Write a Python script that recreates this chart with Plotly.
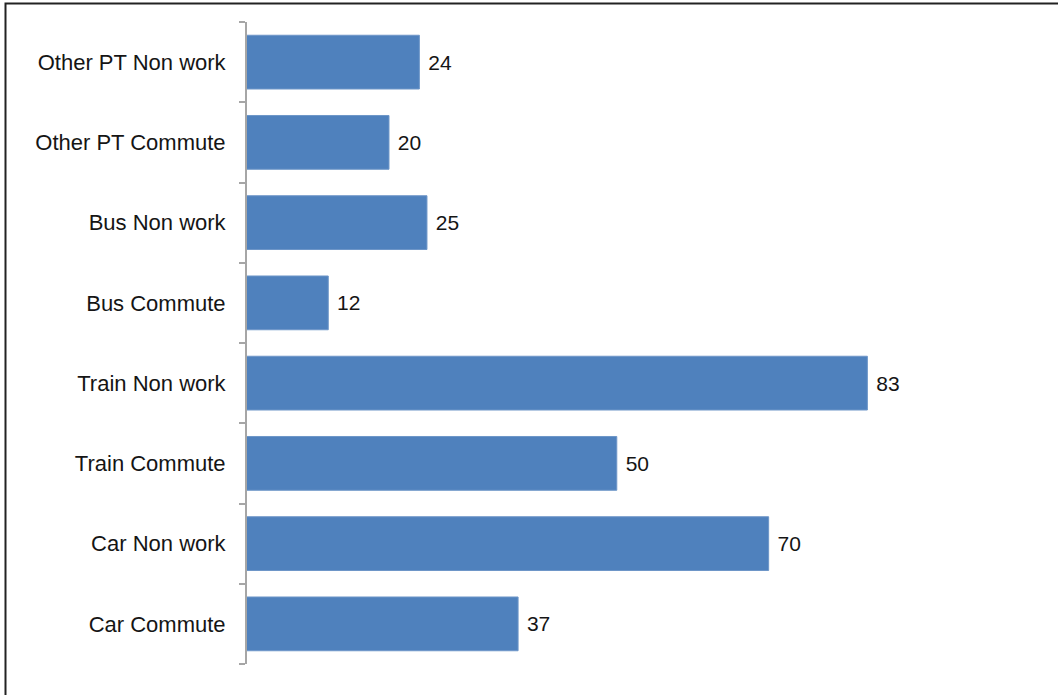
import plotly.graph_objects as go

# Trip categories, bottom to top
categories = [
    "Car Commute",
    "Car Non work",
    "Train Commute",
    "Train Non work",
    "Bus Commute",
    "Bus Non work",
    "Other PT Commute",
    "Other PT Non work",
]
values = [37, 70, 50, 83, 12, 25, 20, 24]

W, H = 1058, 695
ML, MR, MT, MB = 247, 139, 22, 31
plot_w = W - ML - MR
plot_h = H - MT - MB

FONT = "Liberation Sans, Arial, sans-serif"


def px_to_paper_x(px):
    return (px - ML) / plot_w


def px_to_paper_y(py):
    return (H - MB - py) / plot_h


fig = go.Figure(
    go.Bar(
        x=values,
        y=categories,
        orientation="h",
        marker=dict(color="#4F81BD", line=dict(color="#6E96C8", width=1)),
        width=0.67,
        texttemplate=" %{x}",
        textposition="outside",
        cliponaxis=False,
        textfont=dict(family=FONT, size=21, color="#151515"),
    )
)

fig.update_layout(
    width=W,
    height=H,
    margin=dict(l=ML, r=MR, t=MT, b=MB, pad=0),
    paper_bgcolor="white",
    plot_bgcolor="white",
    showlegend=False,
    font=dict(family=FONT, size=21, color="#151515"),
    xaxis=dict(
        range=[1.3, 89.8],
        showgrid=False,
        zeroline=False,
        showticklabels=False,
        ticks="",
        showline=False,
    ),
    yaxis=dict(
        type="category",
        categoryorder="array",
        categoryarray=categories,
        showgrid=False,
        zeroline=False,
        showline=True,
        linecolor="#A6A6A6",
        linewidth=2,
        ticks="outside",
        tickson="boundaries",
        ticklen=6,
        tickwidth=1.5,
        tickcolor="#A6A6A6",
        ticklabelstandoff=15,
        tickfont=dict(family=FONT, size=22, color="#151515"),
    ),
    shapes=[
        dict(
            type="rect",
            xref="paper",
            yref="paper",
            x0=px_to_paper_x(5.5),
            x1=px_to_paper_x(W + 20),
            y0=px_to_paper_y(H + 20),
            y1=px_to_paper_y(3.5),
            line=dict(color="#222222", width=2),
            fillcolor="rgba(0,0,0,0)",
            layer="below",
        )
    ],
)

fig.write_html("out.html")
